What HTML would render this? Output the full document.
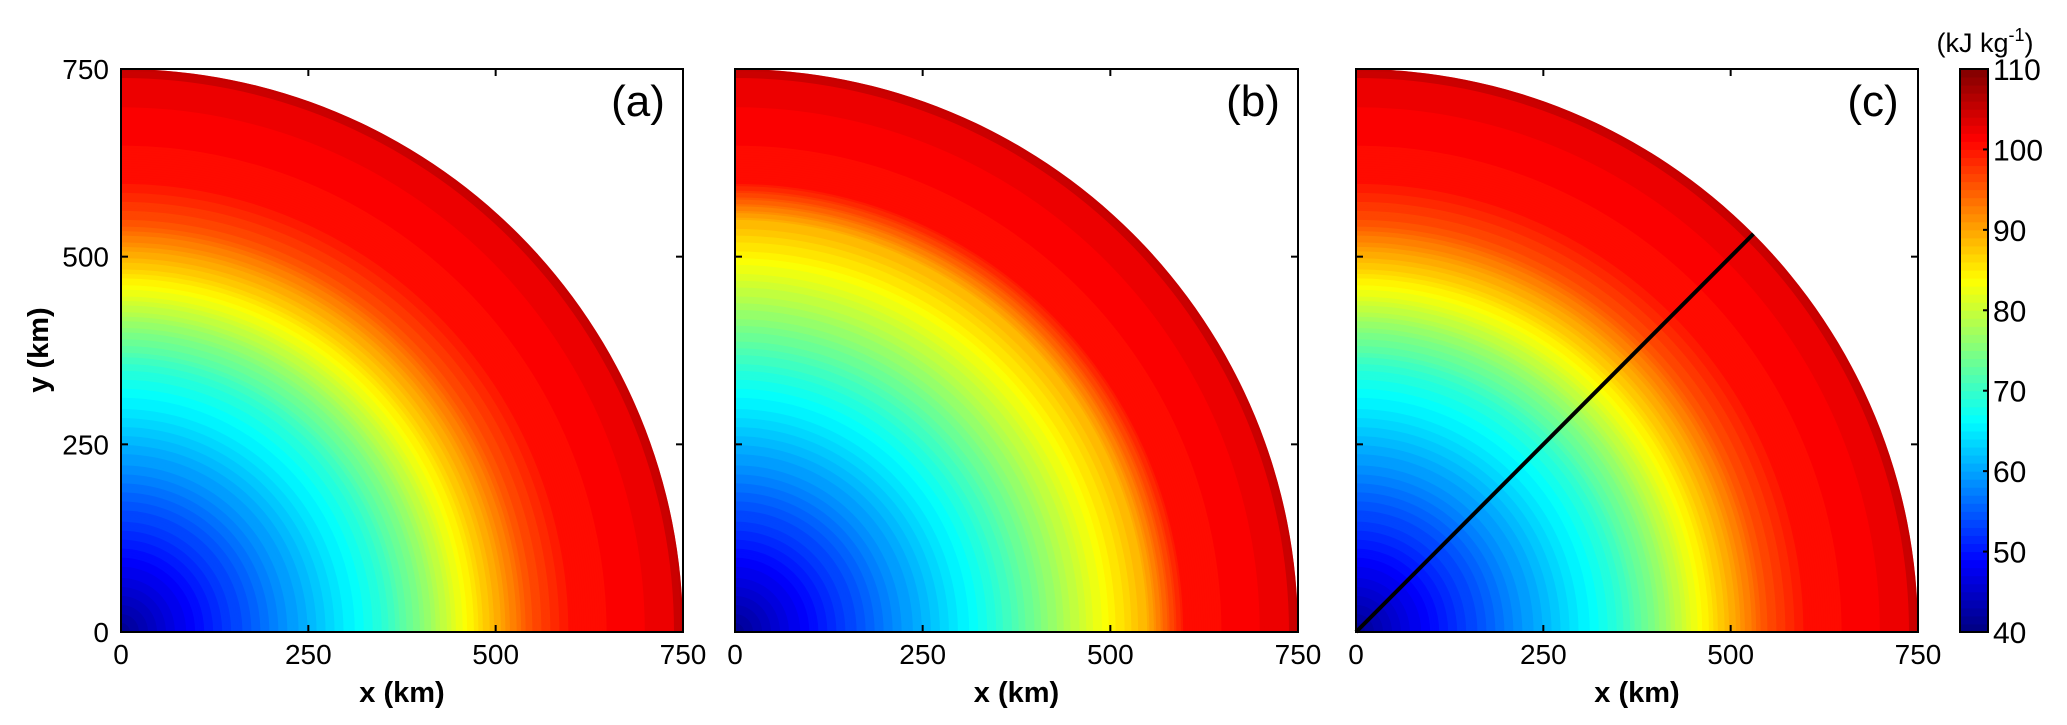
<!DOCTYPE html>
<html><head><meta charset="utf-8"><style>
html,body{margin:0;padding:0;background:#fff;}
svg{display:block;font-family:"Liberation Sans",Arial,sans-serif;}
</style></head><body>
<svg id="fig" width="2067" height="725" viewBox="0 0 2067 725" xmlns="http://www.w3.org/2000/svg">
<defs>
<clipPath id="clipA"><rect x="121" y="69" width="562" height="563"/></clipPath>
<clipPath id="clipB"><rect x="735" y="69" width="563" height="563"/></clipPath>
<clipPath id="clipC"><rect x="1356" y="69" width="562" height="563"/></clipPath>
</defs>
<g id="layer"></g>
</svg>
<script>
// radial profiles (km -> kJ/kg)
const radii = [0,50,100,150,200,250,300,350,400,450,500,550,600,650,700,750];
const profileA = [41,45,49,53,57,61,65,69,75,82,89,96,100,101,102,103];
const profileB = [41,45,49,53,57,61,65,69,74,79,84,89,100,101,102,103];
const profileC = [41,45,49,53,57,61,65,69,75,82,89,96,100,101,102,103];
const xTicks = [0,250,500,750];
const yTicks = [0,250,500,750];
const cbTicks = [40,50,60,70,80,90,100,110];
const panelLabels = ['(a)','(b)','(c)'];
const transectAngleDeg = [45];

const NS='http://www.w3.org/2000/svg';
const layer=document.getElementById('layer');
function mk(tag,attrs,parent){const e=document.createElementNS(NS,tag);for(const k in attrs)e.setAttribute(k,attrs[k]);(parent||layer).appendChild(e);return e;}
function jet(v){
  const f=(x)=>Math.max(0,Math.min(1,x));
  const r=f(1.5-Math.abs(4*v-3)), g=f(1.5-Math.abs(4*v-2)), b=f(1.5-Math.abs(4*v-1));
  return `rgb(${Math.round(r*255)},${Math.round(g*255)},${Math.round(b*255)})`;
}
const vmin=40,vmax=110;
function col(v){const q=Math.floor(v);return jet((q+0.5-vmin)/(vmax-vmin));}
function interp(r,prof){for(let i=1;i<radii.length;i++){if(r<=radii[i]){const t=(r-radii[i-1])/(radii[i]-radii[i-1]);return prof[i-1]+t*(prof[i]-prof[i-1]);}}return prof[prof.length-1];}

const panels=[{x0:121,w:562,prof:profileA,clip:'clipA',name:'a'},{x0:735,w:563,prof:profileB,clip:'clipB',name:'b'},{x0:1356,w:562,prof:profileC,clip:'clipC',name:'c'}];
const y0=632,h=563;
panels.forEach((p,pi)=>{
  const sx=v=>p.x0+v/750*p.w, sy=v=>y0-v/750*h;
  const g=mk('g',{'clip-path':`url(#${p.clip})`});
  
  
  for(let r=750;r>0;r-=3){
    const v=interp(r,p.prof);
    const rx=r/750*p.w, ry=r/750*h;
    const d=`M${sx(0)},${sy(0)} L${sx(0)+rx},${sy(0)} A${rx},${ry} 0 0 0 ${sx(0)},${sy(0)-ry} Z`;
    const path=mk('path',{d:d,fill:col(v)},g);
    
    
  }
  const rx=p.w, ry=h, rx2=738/750*p.w, ry2=738/750*h;
  const ring=mk('path',{d:`M${sx(0)+rx2},${sy(0)} L${sx(0)+rx},${sy(0)} A${rx},${ry} 0 0 0 ${sx(0)},${sy(0)-ry} L${sx(0)},${sy(0)-ry2} A${rx2},${ry2} 0 0 1 ${sx(0)+rx2},${sy(0)} Z`,fill:'#b40000',opacity:'0.6'},g);
  
  
  const box=mk('rect',{x:p.x0,y:69,width:p.w,height:h,fill:'none',stroke:'#000','stroke-width':2});
  
  
  xTicks.forEach(t=>{
    mk('line',{x1:sx(t),y1:y0,x2:sx(t),y2:y0-7,stroke:'#000','stroke-width':2});
    mk('line',{x1:sx(t),y1:69,x2:sx(t),y2:76,stroke:'#000','stroke-width':2});
    const tx=mk('text',{x:sx(t),y:664,'font-size':28,'text-anchor':'middle'});
    tx.textContent=t;
    
    
  });
  yTicks.forEach(t=>{
    mk('line',{x1:p.x0,y1:sy(t),x2:p.x0+7,y2:sy(t),stroke:'#000','stroke-width':2});
    mk('line',{x1:p.x0+p.w,y1:sy(t),x2:p.x0+p.w-7,y2:sy(t),stroke:'#000','stroke-width':2});
    if(pi===0){
      const ty=mk('text',{x:109,y:sy(t)+10,'font-size':28,'text-anchor':'end'});
      ty.textContent=t;
      
      
    }
  });
  const xt=mk('text',{x:p.x0+p.w/2,y:702,'font-size':29,'font-weight':'bold','text-anchor':'middle'});
  xt.textContent='x (km)';
  
  
  const pl=mk('text',{x:p.x0+p.w-45,y:116,'font-size':44,'text-anchor':'middle'});
  pl.textContent=panelLabels[pi];
  
  
  if(pi===2){
    const a=transectAngleDeg[0]*Math.PI/180;
    const ln=mk('line',{x1:sx(0),y1:sy(0),x2:sx(750*Math.cos(a)),y2:sy(750*Math.sin(a)),stroke:'#000','stroke-width':4});
    
    
  }
});
const yt=mk('text',{x:0,y:0,'font-size':29,'font-weight':'bold','text-anchor':'middle',transform:'translate(48,350) rotate(-90)'});
yt.textContent='y (km)';



const cbx=1960,cbw=28,cbTop=69,cbBot=632;
const cy=v=>cbBot-(v-vmin)/(vmax-vmin)*(cbBot-cbTop);
const cb=mk('g',{});


for(let v=vmin;v<vmax;v++){
  mk('rect',{x:cbx,y:cy(v+1)-0.5,width:cbw,height:cy(v)-cy(v+1)+1,fill:col(v)},cb);
}
mk('rect',{x:cbx,y:cbTop,width:cbw,height:cbBot-cbTop,fill:'none',stroke:'#000','stroke-width':2},cb);
cbTicks.forEach(t=>{
  mk('line',{x1:cbx+cbw,y1:cy(t),x2:cbx+cbw-5,y2:cy(t),stroke:'#000','stroke-width':2},cb);
  const tl=mk('text',{x:cbx+cbw+5,y:cy(t)+11,'font-size':30},cb);
  tl.textContent=t;
  
  
});
const un=mk('text',{x:1985,y:52,'font-size':27,'text-anchor':'middle'});
un.innerHTML='(kJ kg<tspan dy="-11" font-size="18">-1</tspan><tspan dy="11">)</tspan>';


</script>
</body></html>
